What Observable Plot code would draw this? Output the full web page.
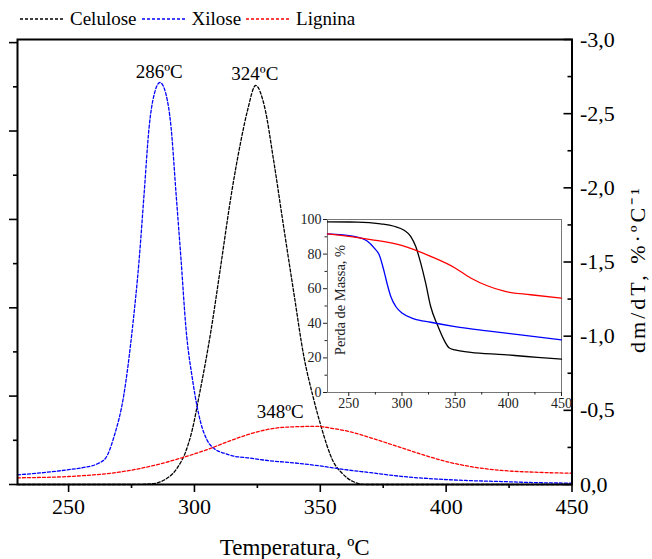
<!DOCTYPE html>
<html><head><meta charset="utf-8">
<script src="https://cdn.jsdelivr.net/npm/d3@7"></script>
<script src="https://cdn.jsdelivr.net/npm/@observablehq/plot@0.6"></script>
<style>
body{margin:0;background:#fff;}
#wrap{position:relative;width:652px;height:559px;font-family:"Liberation Serif","Times New Roman",serif;}
#main{position:absolute;left:0;top:0;}
#inset{position:absolute;left:287px;top:207px;}
#legend{position:absolute;left:20px;top:8px;display:flex;align-items:center;font-size:19px;color:#000;white-space:nowrap;}
#legend .it{display:flex;align-items:center;margin-right:5px;}
#legend svg{margin-right:6px;}
svg text{font-family:"Liberation Serif","Times New Roman",serif;}
</style></head><body>
<div id="wrap"><div id="main"></div><div id="inset"></div><div id="legend"></div></div>
<script>
// ---- series names / colours ----
const names = ["Celulose", "Xilose", "Lignina"];
const colors = ["#000000", "#0000ff", "#ff0000"];

// ---- DTG (main chart): temperature (ºC) and dm/dT (%·ºC-1) ----
const celT = [229.7, 260, 275, 283, 288, 293.5, 296.5, 299, 302, 306.5, 310.5, 314.5, 318.5, 321.2, 324.3, 327.8, 331.5, 335.5, 339.5, 343.5, 347, 350, 355, 359, 363, 368, 400, 450];
const celV = [0, 0, 0, -0.005, -0.03, -0.12, -0.22, -0.36, -0.61, -1.03, -1.48, -1.94, -2.32, -2.53, -2.69, -2.55, -2.18, -1.73, -1.29, -0.86, -0.6, -0.41, -0.16, -0.07, -0.02, 0, 0, 0];

const xilT = [229.7, 240, 250, 256, 261.5, 264.8, 268, 272, 275.4, 278, 280, 282, 284, 286.3, 288.7, 290.7, 292.7, 294.7, 296.6, 299.3, 302.6, 305, 308, 312, 316, 321, 330, 340, 350, 360, 370, 382, 395, 408, 422, 435, 450];
const xilV = [-0.065, -0.08, -0.10, -0.115, -0.14, -0.18, -0.32, -0.61, -1.06, -1.51, -1.96, -2.41, -2.63, -2.71, -2.63, -2.41, -1.96, -1.51, -1.06, -0.70, -0.41, -0.30, -0.24, -0.21, -0.19, -0.18, -0.16, -0.145, -0.125, -0.10, -0.08, -0.055, -0.038, -0.027, -0.02, -0.013, -0.009];

const ligT = [229.7, 250, 260, 270, 283, 295, 305, 315, 325, 335, 348, 356, 362, 370, 380, 390, 400, 410, 422, 435, 450];
const ligV = [-0.045, -0.054, -0.065, -0.083, -0.125, -0.18, -0.235, -0.30, -0.355, -0.385, -0.392, -0.375, -0.355, -0.315, -0.26, -0.205, -0.155, -0.12, -0.095, -0.083, -0.076];

// ---- peak annotations ----
const peakT = [286, 324, 348];
const peakV = [-2.71, -2.69, -0.392];
const peakLabel = ["286ºC", "324ºC", "348ºC"];

// ---- TG (inset): temperature (ºC) and mass (%) ----
const tgCelT = [230, 258, 280, 292.6, 302, 308.2, 312.9, 317.6, 322.3, 327, 333.3, 339.5, 344.2, 349.9, 364.6, 395.9, 411.5, 427.2, 450];
const tgCelM = [98.6, 98.5, 97.5, 96.1, 93.8, 90.3, 84.5, 74.9, 63.2, 49.7, 39.1, 30.4, 25.9, 24.6, 23.2, 21.9, 21.1, 20.3, 19.3];
const tgXilT = [230, 255, 267.6, 273.8, 278.5, 283.2, 286.3, 289.5, 294.2, 300.4, 311.4, 327, 349.9, 380.2, 411.5, 450];
const tgXilM = [91.7, 90.3, 87.4, 83.6, 79.7, 70.0, 62.3, 55.5, 49.7, 45.8, 42.6, 40.6, 38.1, 35.6, 33.3, 30.4];
const tgLigT = [230, 270.7, 300.4, 311.4, 327, 349.9, 364.6, 380.2, 397, 421, 450];
const tgLigM = [91.7, 88.4, 84.9, 82.6, 78.7, 72.0, 66.2, 61.7, 58.4, 56.5, 54.5];

// ---- ticks ----
const xMajor = [250, 300, 350, 400, 450];
const xMinor = [275, 325, 375, 425];
const rightMajor = [0, -0.5, -1.0, -1.5, -2.0, -2.5, -3.0];
const rightMinor = [-0.25, -0.75, -1.25, -1.75, -2.25, -2.75];
const leftMajor = [0, -0.596, -1.191, -1.787, -2.383, -2.979];
const leftMinor = [-0.298, -0.894, -1.489, -2.085, -2.681];
const insetXMajor = [250, 300, 350, 400, 450];
const insetXMinor = [275, 325, 375, 425];
const insetYMajor = [0, 20, 40, 60, 80, 100];
const insetYMinor = [10, 30, 50, 70, 90];

const rows = (T, V, s) => T.map((t, i) => ({T: t, v: V[i], s}));
const dtg = [...rows(celT, celV, names[0]), ...rows(xilT, xilV, names[1]), ...rows(ligT, ligV, names[2])];
const peaks = peakT.map((t, i) => ({T: t, v: peakV[i], label: peakLabel[i]}));
const fmt = d => (Math.abs(d) < 1e-9 ? 0 : d).toFixed(1).replace(".", ",");
const font = "'Liberation Serif','Times New Roman',serif";
const none = () => "";

const main = Plot.plot({
  width: 652, height: 559,
  marginLeft: 17, marginRight: 80.5, marginTop: 39, marginBottom: 75,
  style: {fontFamily: font, fontSize: "22px", color: "#000", background: "transparent", overflow: "visible"},
  x: {domain: [229.7, 450]},
  y: {domain: [0, -3]},
  color: {domain: names, range: colors},
  marks: [
    Plot.line(dtg, {x: "T", y: "v", z: "s", stroke: "s", strokeWidth: 1.3, strokeDasharray: "3,2", curve: "monotone-x"}),
    Plot.frame({stroke: "#000", strokeWidth: 2}),
    Plot.axisX({ticks: xMajor, tickSize: 8, tickPadding: 6, tickFormat: d => d, fontFamily: font, strokeWidth: 1.6, label: null}),
    Plot.axisX({ticks: xMinor, tickSize: 4, tickFormat: none, strokeWidth: 1.6, label: null}),
    Plot.axisY({anchor: "left", ticks: leftMajor, tickSize: 8, tickFormat: none, strokeWidth: 1.6, label: null}),
    Plot.axisY({anchor: "left", ticks: leftMinor, tickSize: 4, tickFormat: none, strokeWidth: 1.6, label: null}),
    Plot.axisY({anchor: "right", ticks: rightMajor, tickSize: 9, dx: -9, tickFormat: none, strokeWidth: 1.6, label: null}),
    Plot.axisY({anchor: "right", ticks: rightMinor, tickSize: 5, dx: -5, tickFormat: none, strokeWidth: 1.6, label: null}),
    Plot.axisY({anchor: "right", ticks: rightMajor, tickSize: 0, tickPadding: 8, tickFormat: fmt, fontFamily: font, label: null}),
    Plot.text(["Temperatura, ºC"], {frameAnchor: "bottom", textAnchor: "middle", lineAnchor: "bottom", dy: 70, fontSize: 23}),
    Plot.text(["dm/dT, %·ºC⁻¹"], {frameAnchor: "right", textAnchor: "middle", rotate: -90, dx: 66, dy: 7, fontSize: 22}),
    Plot.text(peaks.slice(0, 2), {x: "T", y: "v", text: "label", lineAnchor: "bottom", dy: -5, fontSize: 19}),
    Plot.text(peaks.slice(2), {x: "T", y: "v", text: "label", lineAnchor: "bottom", dy: -8, dx: -35, fontSize: 19})
  ]
});
d3.select(main).selectAll("text").filter(function() { return this.textContent.startsWith("dm/dT"); }).style("letter-spacing", "3px");
document.getElementById("main").appendChild(main);

const tg = [...rows(tgCelT, tgCelM, names[0]), ...rows(tgXilT, tgXilM, names[1]), ...rows(tgLigT, tgLigM, names[2])];
const inset = Plot.plot({
  width: 284, height: 215,
  marginLeft: 40, marginRight: 10, marginTop: 12, marginBottom: 30,
  style: {fontFamily: font, fontSize: "14px", color: "#222", background: "transparent", overflow: "visible"},
  x: {domain: [230, 450]},
  y: {domain: [0, 100]},
  color: {domain: names, range: colors},
  marks: [
    Plot.frame({stroke: "#777", strokeWidth: 1}),
    Plot.axisX({ticks: insetXMajor, tickSize: 4, tickPadding: 2, tickFormat: d => d, fontFamily: font, label: null}),
    Plot.axisX({ticks: insetXMinor, tickSize: 2.5, tickFormat: none, label: null}),
    Plot.axisY({ticks: insetYMajor, tickSize: 4, tickPadding: 2, tickFormat: d => d, fontFamily: font, label: null}),
    Plot.axisY({ticks: insetYMinor, tickSize: 2.5, tickFormat: none, label: null}),
    Plot.line(tg, {x: "T", y: "v", z: "s", stroke: "s", strokeWidth: 1.3, curve: "monotone-x"}),
    Plot.text(["Perda de Massa, %"], {frameAnchor: "left", textAnchor: "middle", rotate: -90, dx: 13, dy: -6, fontSize: 14.5})
  ]
});
document.getElementById("inset").appendChild(inset);

// ---- legend ----
const lg = d3.select("#legend");
names.forEach((n, i) => {
  const it = lg.append("div").attr("class", "it");
  const s = it.append("svg").attr("width", 44).attr("height", 6);
  s.append("line").attr("x1", 0).attr("x2", 44).attr("y1", 3).attr("y2", 3)
    .attr("stroke", colors[i]).attr("stroke-width", 1.3).attr("stroke-dasharray", "3,2");
  it.append("span").text(n);
});
</script></body></html>
